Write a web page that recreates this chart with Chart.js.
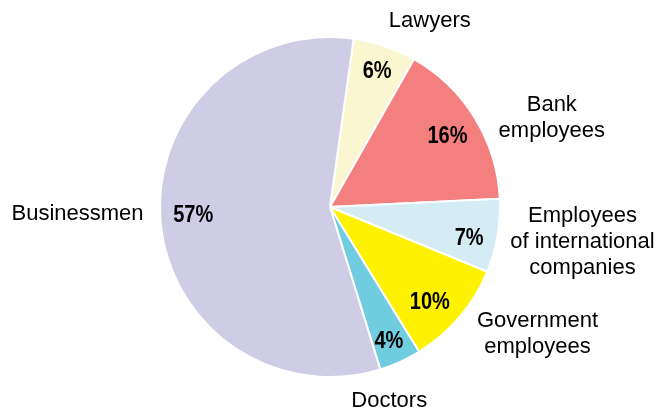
<!DOCTYPE html>
<html>
<head>
<meta charset="utf-8">
<script src="https://cdn.jsdelivr.net/npm/chart.js@4/dist/chart.umd.min.js"></script>
<style>
  html, body { margin: 0; padding: 0; background: #fff; }
  #wrap { width: 672px; height: 410px; position: relative; }
</style>
</head>
<body>
<div id="wrap"><canvas id="pizza"></canvas></div>
<script>
const categorias = [
  ["Lawyers"],
  ["Bank", "employees"],
  ["Employees", "of international", "companies"],
  ["Government", "employees"],
  ["Doctors"],
  ["Businessmen"]
];
const percentuais = [6, 16, 7, 10, 4, 57];
const cores = ["#faf7d0", "#f47f7f", "#d4ecf3", "#fff200", "#70cddf", "#cfcce6"];

// deslocamento do nome em relacao ao ponto da borda no meio da fatia
const ajusteRotulo = [[45, -25], [77, 0], [85, 6], [78, 17], [-11, 39], [-83, -7]];
// pequeno ajuste das porcentagens
const ajustePct = [[2, -4], [-2, 2], [1, 7], [-7, 4], [1, 6], [3, -4]];

// rotulos: porcentagem dentro da fatia, nome fora
const rotulosPlugin = {
  id: "rotulos",
  afterDatasetsDraw(chart) {
    const ctx = chart.ctx;
    const meta = chart.getDatasetMeta(0);
    ctx.save();
    ctx.fillStyle = "#000";
    ctx.textAlign = "center";
    ctx.textBaseline = "middle";
    meta.data.forEach((arc, i) => {
      const meio = (arc.startAngle + arc.endAngle) / 2;
      const r = arc.outerRadius;
      const cx = arc.x, cy = arc.y;

      // porcentagem (um pouco condensada)
      const tx = cx + Math.cos(meio) * r * 0.825 + ajustePct[i][0];
      const ty = cy + Math.sin(meio) * r * 0.825 + ajustePct[i][1];
      ctx.save();
      ctx.translate(tx, ty);
      ctx.scale(0.87, 1);
      ctx.font = "bold 23px 'Liberation Sans', Arial, sans-serif";
      ctx.fillText(percentuais[i] + "%", 0, 1);
      ctx.restore();

      // nome
      const linhas = categorias[i];
      const px = cx + Math.cos(meio) * r + ajusteRotulo[i][0];
      const py = cy + Math.sin(meio) * r + ajusteRotulo[i][1];
      ctx.font = "22px 'Liberation Sans', Arial, sans-serif";
      const alturaLinha = 26;
      const topo = py - (linhas.length * alturaLinha) / 2;
      linhas.forEach((l, k) => {
        ctx.fillText(l, px, topo + alturaLinha * (k + 0.5));
      });
    });
    ctx.restore();
  }
};

const ctx = document.getElementById("pizza");
const meuGrafico = new Chart(ctx, {
  type: "pie",
  data: {
    labels: categorias.map(c => c.join(" ")),
    datasets: [
      {
        data: percentuais,
        backgroundColor: cores,
        borderColor: "#ffffff",
        borderWidth: 2,
      },
    ],
  },
  options: {
    responsive: true,
    maintainAspectRatio: false,
    animation: false,
    rotation: 8,
    layout: { padding: { left: 159, right: 171, top: 36, bottom: 32 } },
    plugins: {
      legend: { display: false },
      tooltip: { enabled: false },
    },
  },
  plugins: [rotulosPlugin],
});
</script>
</body>
</html>
